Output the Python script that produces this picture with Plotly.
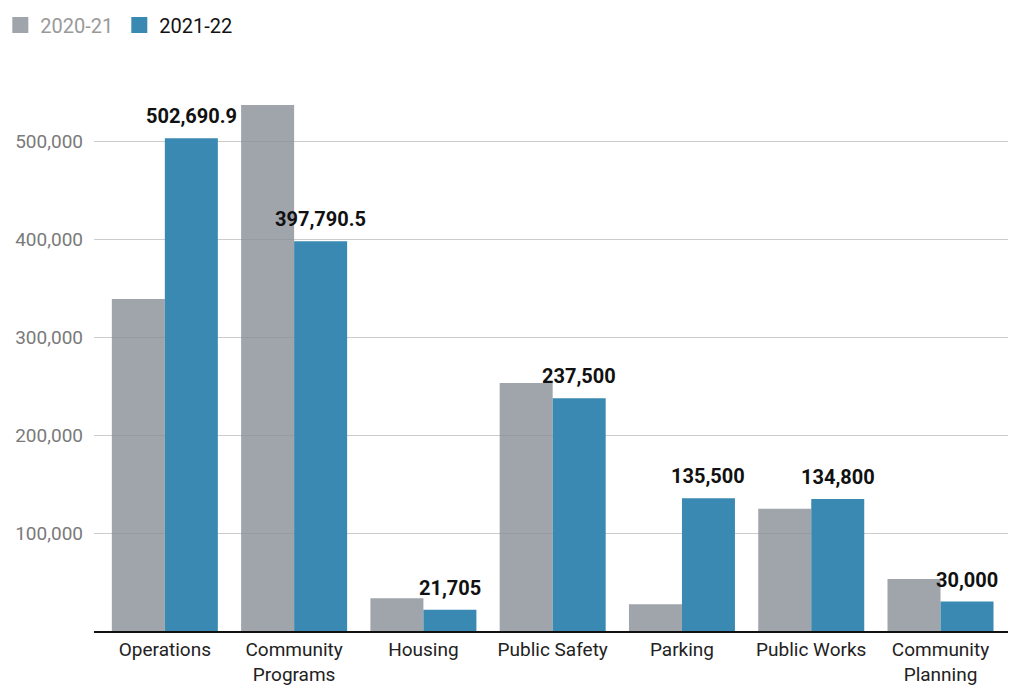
import plotly.graph_objects as go

categories = ["Operations", "Community<br>Programs", "Housing", "Public Safety",
              "Parking", "Public Works", "Community<br>Planning"]
values_2020 = [338800, 536700, 33400, 253000, 27200, 124800, 53000]
values_2021 = [502690.9, 397790.5, 21705, 237500, 135500, 134800, 30000]
y_ticks = [100000, 200000, 300000, 400000, 500000]

gray = "rgba(136,141,150,0.8)"
blue = "#3a89b2"


def fmt(v):
    # keep the decimal only where the value has one
    return f"{v:,.1f}" if v % 1 else f"{v:,.0f}"


fig = go.Figure()

fig.add_trace(go.Bar(
    x=categories,
    y=values_2020,
    name="2020-21",
    marker=dict(color=gray, line=dict(width=0)),
    showlegend=False,
    hoverinfo="skip",
))

fig.add_trace(go.Bar(
    x=categories,
    y=values_2021,
    name="2021-22",
    marker=dict(color=blue, line=dict(width=0)),
    showlegend=False,
    hoverinfo="skip",
))

# value labels over the 2021-22 bars
for cat, v in zip(categories, values_2021):
    fig.add_annotation(
        x=cat, y=v, text=fmt(v),
        showarrow=False, yanchor="bottom",
        xshift=26.5, yshift=8,
        font=dict(size=20, color="#111111", family="Roboto", weight="bold"),
    )

# legend entries with big square swatches
fig.add_trace(go.Scatter(
    x=[None], y=[None], mode="markers",
    name="<span style='color:#999999'>2020-21</span>",
    marker=dict(symbol="square", size=22, color="#a0a4ab"),
))
fig.add_trace(go.Scatter(
    x=[None], y=[None], mode="markers",
    name="2021-22",
    marker=dict(symbol="square", size=22, color=blue),
))

fig.update_layout(
    width=1024,
    height=694,
    margin=dict(l=86, r=24, t=72, b=71, autoexpand=False),
    paper_bgcolor="white",
    plot_bgcolor="white",
    font=dict(family="Roboto", size=20, color="#222222"),
    barmode="group",
    bargap=0.18,
    bargroupgap=0,
    showlegend=True,
    legend=dict(
        orientation="h",
        x=-0.1025, y=1.135,
        xanchor="left", yanchor="top",
        font=dict(size=20, color="#111111"),
        itemsizing="trace",
        entrywidth=74,
        traceorder="normal",
    ),
    xaxis=dict(
        range=[-0.548, 6.522],
        showline=True,
        linecolor="#111111",
        linewidth=2,
        ticks="",
        tickfont=dict(size=19, color="#222222"),
        showgrid=False,
    ),
    yaxis=dict(
        range=[0, 562245],
        tickvals=y_ticks,
        tickformat=",",
        showgrid=True,
        gridcolor="#cccccc",
        gridwidth=1,
        zeroline=False,
        tickfont=dict(size=19, color="#7a7a7a"),
        ticklabelstandoff=10,
    ),
)

fig.write_html("out.html")
